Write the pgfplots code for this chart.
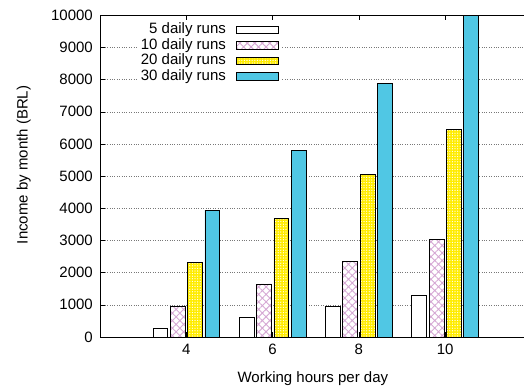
\documentclass[border=0pt]{standalone}
\usepackage{pgfplots}
\pgfplotsset{compat=1.18}
\usepackage{fontspec}
\setmainfont{Liberation Sans}
\usetikzlibrary{patterns,patterns.meta}
\definecolor{barblue}{RGB}{80,199,228}
\definecolor{baryellow}{RGB}{255,236,0}
\definecolor{hatchpink}{RGB}{214,168,212}
\definecolor{gridgray}{RGB}{120,120,120}
\pgfplotstableread{
x  r5   r10  r20  r30
0  260  960  2320 3940
1  600  1650 3680 5810
2  950  2350 5060 7890
3  1290 3030 6440 10100
}\datatable
\begin{document}
\fontsize{15}{18}\selectfont
\begin{tikzpicture}
\begin{axis}[
  at={(100pt,51pt)}, anchor=south west,
  scale only axis, width=424pt, height=321.7pt,
  font=\fontsize{15}{18}\selectfont,
  ybar=0pt, bar width=14.8pt,
  xmin=-1, xmax=3.913, ymin=0, ymax=10000,
  xtick={0,1,2,3}, xticklabels={4,6,8,10},
  ytick={0,1000,...,10000},
  ytick pos=left,
  scaled ticks=false,
  /pgf/number format/assume math mode=true,
  yticklabel style={/pgf/number format/1000 sep={}, xshift=-2pt},
  xticklabel style={yshift=-2pt},
  tick align=inside, major tick length=5pt,
  tick style={black, line width=0.6pt},
  axis line style={draw=none},
  ymajorgrids, major grid style={gridgray, dotted, line width=0.5pt},
  xlabel={Working hours per day},
  ylabel={Income by month (BRL)},
  xlabel style={at={(axis description cs:0.502,-0.13)}, anchor=center},
  ylabel style={at={(axis description cs:-0.18,0.535)}, anchor=center},
  legend plot pos=right,
  legend cell align=right,
  legend style={at={(axis description cs:0.429,0.985)}, anchor=north east,
    draw=none, fill=white, row sep=0pt,
    /tikz/every odd column/.append style={column sep=9pt},
    nodes={inner sep=1pt, text height=10.5pt, text depth=3pt}},
  legend image code/.code={\draw[#1, line width=0.8pt] (0pt,-3.8pt) rectangle (42pt,3.8pt);},
]
\addplot[draw=black, line width=0.8pt, fill=white, bar shift=-26pt] table[x=x,y=r5]{\datatable};
\addlegendentry{5 daily runs}
\addplot[draw=black, line width=0.8pt, fill=white, bar shift=-8.7pt,
  postaction={pattern={Hatch[angle=45,distance=5.3pt,line width=0.9pt]}, pattern color=hatchpink}] table[x=x,y=r10]{\datatable};
\addlegendentry{10 daily runs}
\addplot[draw=black, line width=0.8pt, fill=baryellow, bar shift=8.7pt,
  postaction={pattern={Dots[distance=2.6pt,radius=0.65pt]}, pattern color=white}] table[x=x,y=r20]{\datatable};
\addlegendentry{20 daily runs}
\addplot[draw=black, line width=0.8pt, fill=barblue, bar shift=26pt] table[x=x,y=r30]{\datatable};
\addlegendentry{30 daily runs}
\draw[black, line width=0.9pt] (rel axis cs:1,1) -- (rel axis cs:0,1) -- (rel axis cs:0,0) -- (rel axis cs:1,0);
\end{axis}
\pgfresetboundingbox
\path[use as bounding box] (0,0) rectangle (524pt,388pt);
\end{tikzpicture}
\end{document}
